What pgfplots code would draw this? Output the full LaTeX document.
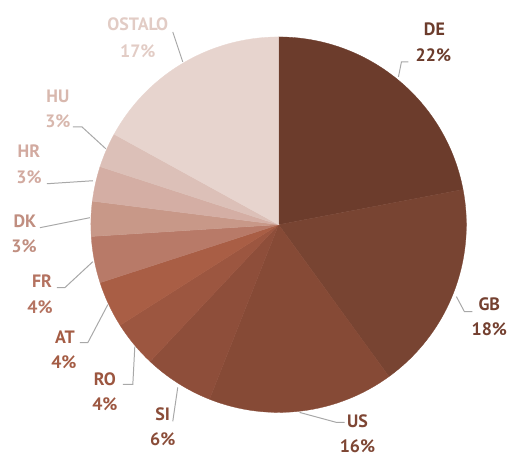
\documentclass[border=0pt]{standalone}
\usepackage{pgfplots}
\usepackage{pgfplotstable}
\pgfplotsset{compat=1.18}
\usepackage{fontspec}
\setmainfont{PT Sans}

\definecolor{slice0}{HTML}{6C3C2C}
\definecolor{slice1}{HTML}{784432}
\definecolor{slice2}{HTML}{864A36}
\definecolor{slice3}{HTML}{8E4E3A}
\definecolor{slice4}{HTML}{9C5640}
\definecolor{slice5}{HTML}{A95E45}
\definecolor{slice6}{HTML}{B87A68}
\definecolor{slice7}{HTML}{C89888}
\definecolor{slice8}{HTML}{D4AEA4}
\definecolor{slice9}{HTML}{DCC0B8}
\definecolor{slice10}{HTML}{E7D4CE}
\definecolor{lab0}{HTML}{6C3C2C}
\definecolor{lab1}{HTML}{744030}
\definecolor{lab2}{HTML}{7E4634}
\definecolor{lab3}{HTML}{8A4C38}
\definecolor{lab4}{HTML}{9C5640}
\definecolor{lab5}{HTML}{A45C44}
\definecolor{lab6}{HTML}{B47260}
\definecolor{lab7}{HTML}{C08E80}
\definecolor{lab8}{HTML}{D2AAA0}
\definecolor{lab9}{HTML}{D8B8AE}
\definecolor{lab10}{HTML}{E2CCC5}
\definecolor{leader}{HTML}{A8A8A8}

\pgfplotstableread{
name pct nx ny vx vy
DE 22 435 423 434 397
GB 18 490 148 490 123
US 16 358 31 358 6
SI 6 163 38 163 13
RO 4 105 73 105 48
AT 4 65 115 64 90
FR 4 42 171 40 145
DK 3 25 231 24 206
HR 3 29 301 29 275
HU 3 58 356 58 331
OSTALO 17 138 428 138 401
}\piedata

\begin{document}
\begin{tikzpicture}
\begin{axis}[
  width=507bp, height=459bp, scale only axis,
  xmin=0, xmax=507, ymin=0, ymax=459,
  hide axis, clip=false,
]
\path (axis cs:0,0) rectangle (axis cs:507,459);
\gdef\curang{90}
\foreach \i in {0,...,10}{
  \pgfplotstablegetelem{\i}{pct}\of\piedata
  \pgfmathsetmacro\endang{\curang - 3.6*\pgfplotsretval}
  \edef\tmp{\noexpand\fill[fill=slice\i, draw=slice\i, line width=0.3pt]
    (axis cs:279,234) -- ++(\curang:188bp)
    arc[start angle=\curang, end angle=\endang, radius=188bp] -- cycle;}
  \tmp
  \xdef\curang{\endang}
}
% leader lines
\addplot[leader, line width=1pt, mark=none] coordinates {(399,382) (402,397) (409,397)};
\addplot[leader, line width=1pt, mark=none] coordinates {(457,162) (465,147) (473,147)};
\addplot[leader, line width=1pt, mark=none] coordinates {(300,46) (337,36) (345,36)};
\addplot[leader, line width=1pt, mark=none] coordinates {(178,71) (173,37)};
\addplot[leader, line width=1pt, mark=none] coordinates {(135,112) (133,74) (123,74)};
\addplot[leader, line width=1pt, mark=none] coordinates {(108,154) (88,116) (80,116)};
\addplot[leader, line width=1pt, mark=none] coordinates {(93,197) (65,171) (57,171)};
\addplot[leader, line width=1pt, mark=none] coordinates {(90,241) (40,231)};
\addplot[leader, line width=1pt, mark=none] coordinates {(93,278) (47,275)};
\addplot[leader, line width=1pt, mark=none] coordinates {(106,310) (82,332) (73,332)};
\addplot[leader, line width=1pt, mark=none] coordinates {(183,397) (173,427)};
% labels
\foreach \i in {0,...,10}{
  \pgfplotstablegetelem{\i}{name}\of\piedata \let\nm\pgfplotsretval
  \pgfplotstablegetelem{\i}{pct}\of\piedata \let\pc\pgfplotsretval
  \pgfplotstablegetelem{\i}{nx}\of\piedata \let\nx\pgfplotsretval
  \pgfplotstablegetelem{\i}{ny}\of\piedata \let\ny\pgfplotsretval
  \pgfplotstablegetelem{\i}{vx}\of\piedata \let\vx\pgfplotsretval
  \pgfplotstablegetelem{\i}{vy}\of\piedata \let\vy\pgfplotsretval
  \edef\tmp{\noexpand\node[anchor=base, inner sep=0pt, text=lab\i, font=\noexpand\fontsize{18}{20}\noexpand\selectfont\noexpand\bfseries] at (axis cs:\nx,\ny) {\nm};
    \noexpand\node[anchor=base, inner sep=0pt, text=lab\i, font=\noexpand\fontsize{18}{20}\noexpand\selectfont\noexpand\bfseries] at (axis cs:\vx,\vy) {\pc\noexpand\%};}
  \tmp
}
\end{axis}
\end{tikzpicture}
\end{document}
